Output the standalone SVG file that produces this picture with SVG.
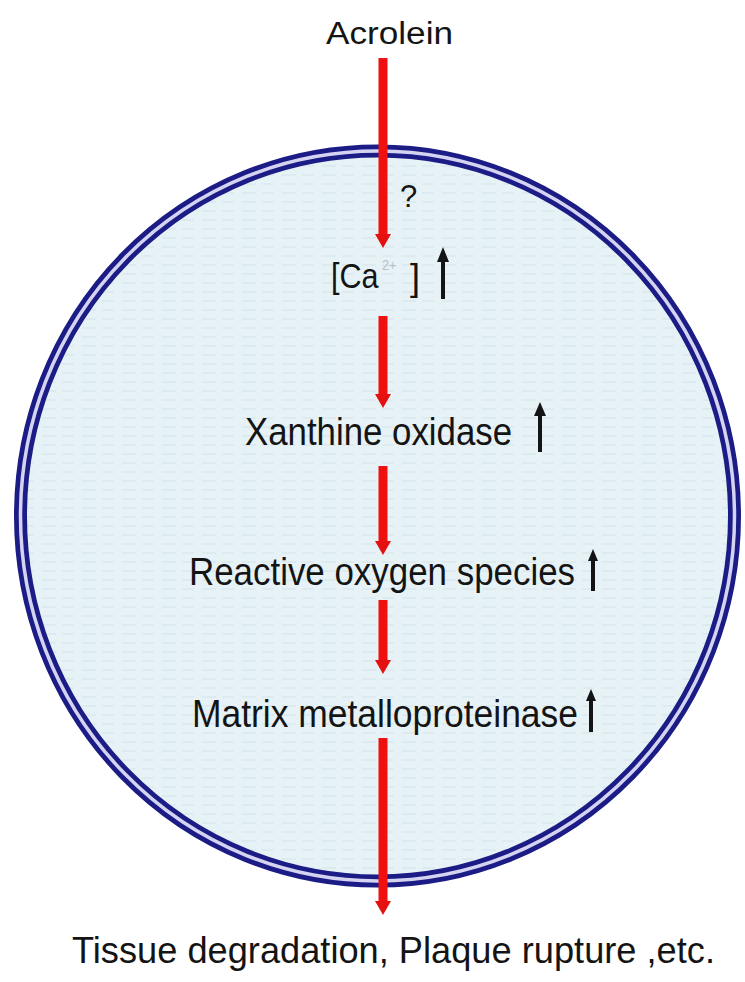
<svg xmlns="http://www.w3.org/2000/svg" width="745" height="982" viewBox="0 0 745 982">
<defs>
<style>
.t{font-family:"Liberation Sans",Arial,sans-serif;fill:#141414;font-size:38px;}
.red{stroke:#f01010;stroke-width:9;fill:none;}
.rh{fill:#e51010;}
.up{stroke:#141414;stroke-width:4;fill:none;}
.uh{fill:#141414;}
</style>
<pattern id="tex" width="40" height="9" patternUnits="userSpaceOnUse">
<rect width="40" height="9" fill="#e7f2f6"/>
<path d="M2,4h14M22,4h12" stroke="#d3e3ea" stroke-width="1"/>
</pattern>
</defs>
<rect width="745" height="982" fill="#ffffff"/>
<g id="cell">
<ellipse cx="377.5" cy="516" rx="357" ry="365" fill="url(#tex)"/>
<ellipse cx="377.5" cy="516" rx="357" ry="365" fill="none" stroke="#1c1c86" stroke-width="13"/>
<ellipse cx="377.5" cy="516" rx="357" ry="365" fill="none" stroke="#d4d4f2" stroke-width="3.5"/>
</g>
<g id="acrolein"><text class="t" x="326" y="44" style="font-size:31px" textLength="127" lengthAdjust="spacingAndGlyphs">Acrolein</text></g>
<g id="question"><text class="t" x="400" y="207" style="font-size:31px">?</text></g>
<g id="calcium">
<text class="t" transform="translate(331,288) scale(0.85,1)" x="0" y="0" style="font-size:36px">[Ca<tspan dx="4" dy="-18" style="font-size:15px;fill:#bcc0c4">2+</tspan></text>
<text class="t" x="410" y="290" style="font-size:36px">]</text>
<line class="up" x1="443" y1="299" x2="443" y2="258"/>
<polygon class="uh" points="437,262 449,262 443,247"/>
</g>
<g id="xanthine">
<text class="t" x="245" y="445" textLength="267" lengthAdjust="spacingAndGlyphs">Xanthine oxidase</text>
<line class="up" x1="540" y1="452" x2="540" y2="412"/>
<polygon class="uh" points="534,416 546,416 540,402"/>
</g>
<g id="ros">
<text class="t" x="189" y="585" textLength="386" lengthAdjust="spacingAndGlyphs">Reactive oxygen species</text>
<line class="up" x1="593" y1="591" x2="593" y2="558"/>
<polygon class="uh" points="588,561 598,561 593,549"/>
</g>
<g id="mmp">
<text class="t" x="192" y="727" textLength="386" lengthAdjust="spacingAndGlyphs">Matrix metalloproteinase</text>
<line class="up" x1="591" y1="732" x2="591" y2="698"/>
<polygon class="uh" points="586,701 596,701 591,689"/>
</g>
<g id="tissue"><text class="t" x="72" y="963" style="font-size:37px" textLength="643" lengthAdjust="spacingAndGlyphs">Tissue degradation, Plaque rupture ,etc.</text></g>
<g id="connectors">
<line class="red" x1="383" y1="58" x2="383" y2="236"/>
<polygon class="rh" points="375,234 391,234 383,248"/>
<line class="red" x1="383" y1="316" x2="383" y2="396"/>
<polygon class="rh" points="375,394 391,394 383,408"/>
<line class="red" x1="383" y1="466" x2="383" y2="543"/>
<polygon class="rh" points="375,541 391,541 383,555"/>
<line class="red" x1="383" y1="600" x2="383" y2="662"/>
<polygon class="rh" points="375,660 391,660 383,674"/>
<line class="red" x1="383" y1="738" x2="383" y2="903"/>
<polygon class="rh" points="375,901 391,901 383,915"/>
</g>
</svg>
